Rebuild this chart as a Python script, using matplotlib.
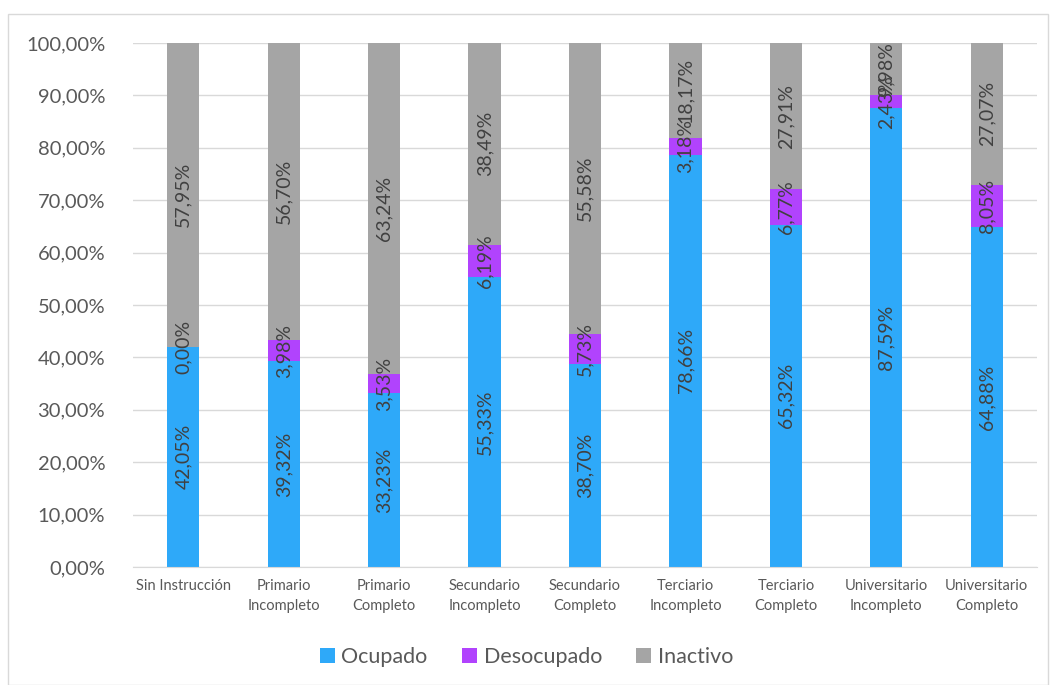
import matplotlib.pyplot as plt
from matplotlib.patches import Rectangle
from matplotlib.ticker import FuncFormatter

categorias = ['Sin Instrucción', 'Primario\nIncompleto', 'Primario\nCompleto',
              'Secundario\nIncompleto', 'Secundario\nCompleto', 'Terciario\nIncompleto',
              'Terciario\nCompleto', 'Universitario\nIncompleto', 'Universitario\nCompleto']
ocupado = [42.05, 39.32, 33.23, 55.33, 38.70, 78.66, 65.32, 87.59, 64.88]
desocupado = [0.00, 3.98, 3.53, 6.19, 5.73, 3.18, 6.77, 2.43, 8.05]
inactivo = [57.95, 56.70, 63.24, 38.49, 55.58, 18.17, 27.91, 9.98, 27.07]

series = [('Ocupado', ocupado, '#2EA9F9'),
          ('Desocupado', desocupado, '#B143FD'),
          ('Inactivo', inactivo, '#A5A5A5')]

plt.rcParams['font.family'] = ['Lato', 'DejaVu Sans']

fig = plt.figure(figsize=(10.53, 6.85), dpi=100)
ax = fig.add_axes([0.1263, 0.1723, 0.8585, 0.7649])

# marco alrededor del grafico
fig.patches.append(Rectangle((8 / 1053, 0), 1040 / 1053, 671 / 685, transform=fig.transFigure,
                             fill=False, edgecolor='#D9D9D9', linewidth=1))

x = list(range(len(categorias)))
base = [0.0] * len(categorias)
for nombre, valores, color in series:
    frac = [v / 100 for v in valores]
    ax.bar(x, frac, width=0.32, bottom=base, color=color, label=nombre, zorder=2)
    for i, (b, f, v) in enumerate(zip(base, frac, valores)):
        ax.text(i, b + f / 2, f'{v:.2f}%'.replace('.', ','), rotation=90,
                ha='center', va='center', fontsize=14, color='#404040', zorder=3)
    base = [b + f for b, f in zip(base, frac)]

ax.set_xlim(-0.5, len(categorias) - 0.5)
ax.set_ylim(0, 1)
ax.set_yticks([i / 10 for i in range(11)])
ax.yaxis.set_major_formatter(FuncFormatter(lambda v, p: f'{v * 100:.2f}%'.replace('.', ',')))
ax.set_xticks(x)
ax.set_xticklabels(categorias, fontsize=10.5, color='#595959', linespacing=1.5)
ax.tick_params(axis='y', labelsize=14.5, labelcolor='#595959', length=0, pad=20)
ax.tick_params(axis='x', length=0, pad=9)
ax.grid(axis='y', color='#D9D9D9', linewidth=1, zorder=0)
ax.set_axisbelow(True)
for lado in ['top', 'right', 'left']:
    ax.spines[lado].set_visible(False)
ax.spines['bottom'].set_color('#D9D9D9')

fig.legend(loc='center', bbox_to_anchor=(0.5, 1 - 657 / 685), ncol=3, frameon=False,
           fontsize=15.5, labelcolor='#595959', handlelength=0.7, handleheight=0.7,
           handletextpad=0.3, columnspacing=1.6)

fig.savefig('out.png', dpi=100)
